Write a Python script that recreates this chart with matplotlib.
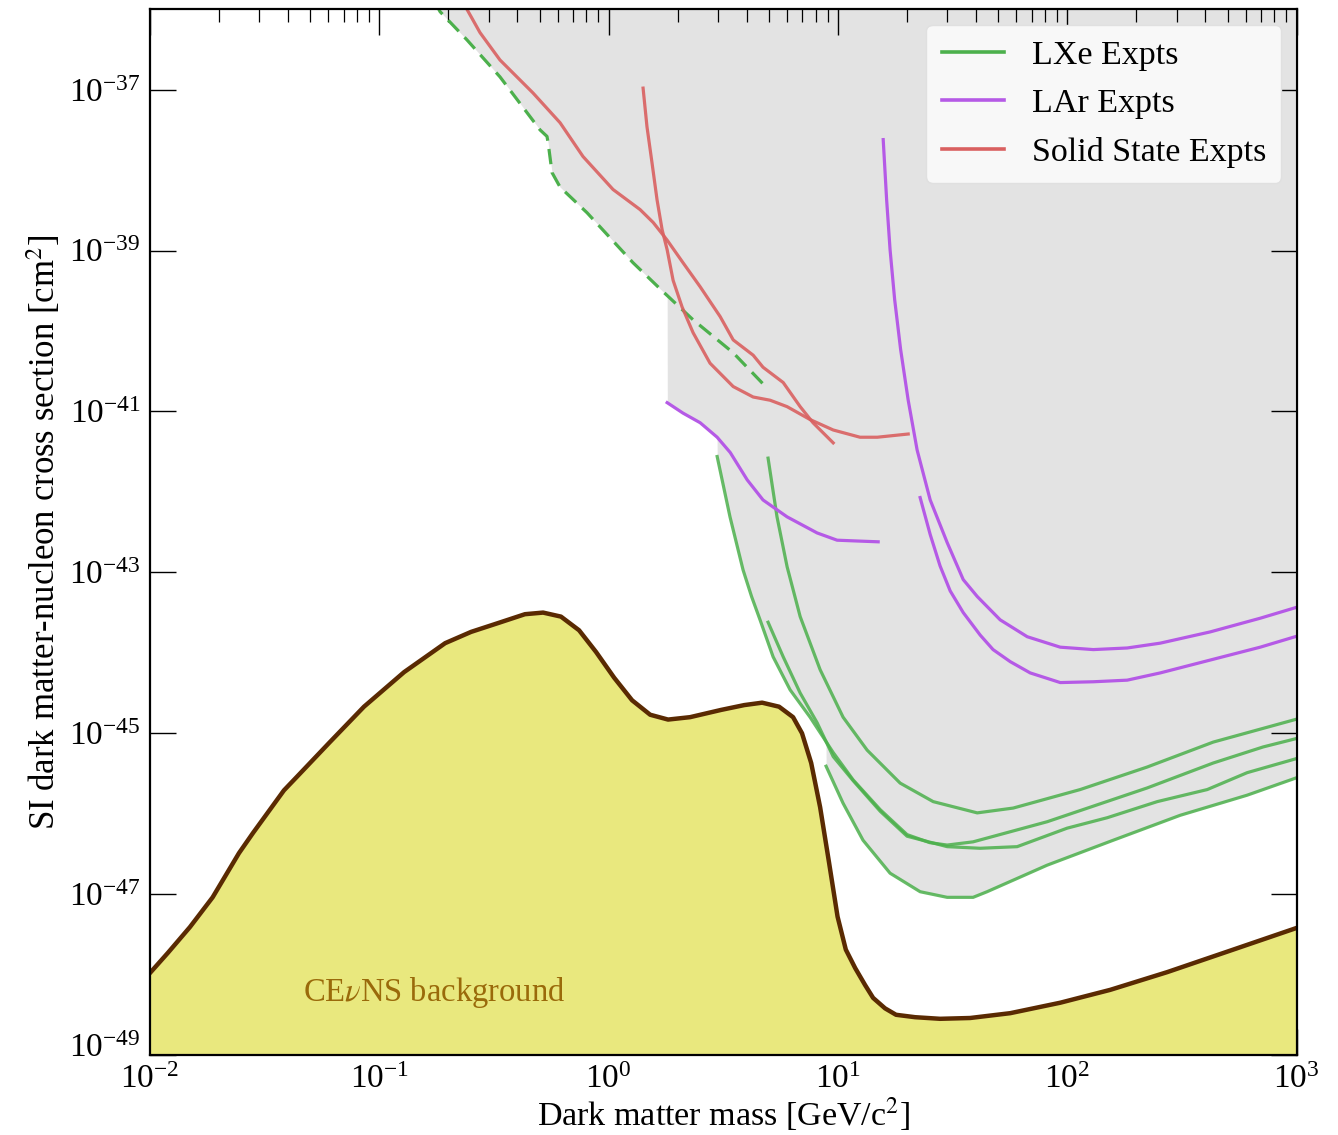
import numpy as np
import matplotlib
matplotlib.use("Agg")
import matplotlib.pyplot as plt
import matplotlib.transforms as mtransforms
from matplotlib.ticker import FixedLocator, NullLocator, LogLocator

plt.rcParams['font.family'] = ['Liberation Serif', 'DejaVu Serif']
plt.rcParams['mathtext.fontset'] = 'stix'

# all values are log10: mass in GeV/c^2, cross section in cm^2
cevns_logm = [-2.000, -1.922, -1.826, -1.727, -1.612, -1.551, -1.416, -1.359, -1.219, -1.067,
              -0.892, -0.713, -0.600, -0.482, -0.365, -0.286, -0.208, -0.129, -0.055, 0.024,
              0.102, 0.181, 0.259, 0.355, 0.490, 0.591, 0.669, 0.743, 0.804, 0.843,
              0.883, 0.922, 0.961, 0.998, 1.034, 1.075, 1.118, 1.153, 1.205, 1.253,
              1.336, 1.445, 1.576, 1.751, 1.969, 2.187, 2.435, 2.723, 3.000]
cevns_logs = [-47.98, -47.73, -47.41, -47.04, -46.49, -46.24, -45.71, -45.54, -45.12, -44.67,
              -44.24, -43.88, -43.74, -43.63, -43.52, -43.50, -43.55, -43.72, -43.99, -44.31,
              -44.59, -44.77, -44.83, -44.80, -44.71, -44.65, -44.62, -44.67, -44.80, -45.00,
              -45.37, -45.92, -46.61, -47.28, -47.69, -47.92, -48.13, -48.29, -48.42, -48.50,
              -48.53, -48.55, -48.54, -48.48, -48.35, -48.19, -47.97, -47.69, -47.42]

# LXe dashed
lxe_dash_logm = [-0.76, -0.735, -0.618, -0.474, -0.299, -0.269, -0.264, -0.247, -0.212,
                 -0.094, 0.106, 0.237, 0.368, 0.543, 0.691]
lxe_dash_logs = [-35.90, -36.03, -36.38, -36.84, -37.50, -37.58, -37.66, -38.03, -38.21,
                 -38.53, -39.15, -39.51, -39.86, -40.27, -40.71]

# LXe solid
lxe1_logm = [0.473, 0.529, 0.586, 0.623, 0.660, 0.717, 0.791, 0.878, 0.979, 1.066, 1.184, 1.301,
             1.400, 1.476, 1.589, 1.912, 2.348, 2.636, 2.854, 2.993]
lxe1_logs = [-41.56, -42.31, -42.97, -43.30, -43.59, -44.05, -44.46, -44.80, -45.24, -45.58,
             -45.95, -46.26, -46.36, -46.39, -46.35, -46.10, -45.68, -45.37, -45.17, -45.07]
lxe2_logm = [0.695, 0.734, 0.778, 0.835, 0.922, 1.022, 1.127, 1.271, 1.415, 1.607, 1.764,
             2.056, 2.348, 2.636, 2.993]
lxe2_logs = [-41.58, -42.31, -42.93, -43.55, -44.21, -44.80, -45.21, -45.62, -45.85, -45.99,
             -45.93, -45.70, -45.42, -45.11, -44.83]
lxe3_logm = [0.695, 0.761, 0.835, 0.909, 0.979, 1.066, 1.184, 1.301, 1.476, 1.620, 1.781,
             1.999, 2.174, 2.392, 2.610, 2.784, 2.993]
lxe3_logs = [-43.62, -44.05, -44.50, -44.87, -45.29, -45.59, -45.97, -46.28, -46.41, -46.43,
             -46.41, -46.18, -46.05, -45.85, -45.70, -45.49, -45.32]
lxe4_logm = [0.948, 1.022, 1.109, 1.227, 1.358, 1.476, 1.589, 1.650, 1.912, 2.200, 2.492,
             2.784, 2.993]
lxe4_logs = [-45.41, -45.87, -46.33, -46.74, -46.97, -47.04, -47.04, -46.97, -46.64, -46.33,
             -46.02, -45.77, -45.56]

# LAr
lar1_logm = [0.255, 0.324, 0.399, 0.473, 0.530, 0.604, 0.673, 0.778, 0.909, 0.996, 1.083, 1.175]
lar1_logs = [-40.89, -41.02, -41.14, -41.32, -41.51, -41.85, -42.10, -42.31, -42.51, -42.60,
             -42.61, -42.62]
lar2_logm = [1.197, 1.212, 1.227, 1.247, 1.273, 1.306, 1.345, 1.402, 1.476, 1.546, 1.607,
             1.707, 1.825, 1.969, 2.113, 2.261, 2.405, 2.623, 2.841, 2.993]
lar2_logs = [-37.62, -38.37, -38.99, -39.61, -40.23, -40.86, -41.48, -42.10, -42.63, -43.09,
             -43.30, -43.59, -43.80, -43.93, -43.96, -43.94, -43.88, -43.74, -43.57, -43.44]
lar3_logm = [1.358, 1.402, 1.445, 1.489, 1.546, 1.620, 1.676, 1.751, 1.838, 1.969, 2.113,
             2.261, 2.405, 2.623, 2.841, 2.993]
lar3_logs = [-42.07, -42.53, -42.92, -43.23, -43.50, -43.78, -43.96, -44.11, -44.25, -44.37,
             -44.36, -44.34, -44.25, -44.09, -43.93, -43.80]

# solid state
ss1_logm = [-0.63, -0.618, -0.561, -0.474, -0.330, -0.212, -0.112, 0.019, 0.137, 0.194, 0.255,
            0.324, 0.399, 0.486, 0.543, 0.630, 0.673, 0.761, 0.835, 0.891, 0.979]
ss1_logs = [-35.90, -36.00, -36.29, -36.63, -37.04, -37.41, -37.83, -38.24, -38.49, -38.65,
            -38.87, -39.15, -39.45, -39.82, -40.11, -40.30, -40.45, -40.64, -40.94, -41.14, -41.39]
ss2_logm = [0.150, 0.167, 0.189, 0.211, 0.233, 0.255, 0.281, 0.320, 0.368, 0.442, 0.543, 0.630,
            0.704, 0.778, 0.878, 0.979, 1.096, 1.171, 1.306]
ss2_logs = [-36.98, -37.46, -37.91, -38.37, -38.74, -38.99, -39.37, -39.70, -40.02, -40.40,
            -40.69, -40.82, -40.86, -40.94, -41.10, -41.23, -41.32, -41.32, -41.28]

green = '#4cb04c'
purple = '#b55ae6'
red = '#d96060'

fig = plt.figure(figsize=(13.38, 11.35), dpi=100)
ax = fig.add_axes([150/1338, 1-1055/1135, 1146.7/1338, 1045.7/1135])
ax.set_xscale('log')
ax.set_yscale('log')

# excluded region: above the lowest of all limit curves
limits = [(lxe_dash_logm, lxe_dash_logs), (lxe1_logm, lxe1_logs), (lxe2_logm, lxe2_logs),
          (lxe3_logm, lxe3_logs), (lxe4_logm, lxe4_logs), (lar1_logm, lar1_logs),
          (lar2_logm, lar2_logs), (lar3_logm, lar3_logs), (ss1_logm, ss1_logs), (ss2_logm, ss2_logs)]
grid = np.linspace(-2, 3, 8001)
stack = np.array([np.interp(grid, m, s, left=np.nan, right=np.nan) for m, s in limits])
env = np.nanmin(np.where(np.isnan(stack), np.inf, stack), axis=0)
ok = np.isfinite(env)
env[~ok] = -36
ax.fill_between(10**grid, 10**env, 1e-36, where=ok, color='#e3e3e3', lw=0, zorder=1)

# CEvNS floor
cx = 10**np.array(cevns_logm)
cy = 10**np.array(cevns_logs)
ax.fill_between(cx, cy, 1e-49, color='#e9e87e', lw=0, zorder=2)
ax.plot(cx, cy, color='#5a2a02', lw=3.2, zorder=3, solid_joinstyle='round')
ax.text(10**-0.761, 10**-48.22, r'CE$\nu$NS background', color='#9a6a0a', fontsize=23.5,
        ha='center', va='center', zorder=4)

lw = 2.3
ax.plot(10**np.array(lxe_dash_logm), 10**np.array(lxe_dash_logs), color=green, lw=lw,
        ls=(0, (4.8, 2.6)), zorder=5)
for m, s in [(lxe1_logm, lxe1_logs), (lxe2_logm, lxe2_logs), (lxe3_logm, lxe3_logs), (lxe4_logm, lxe4_logs)]:
    ax.plot(10**np.array(m), 10**np.array(s), color=green, lw=lw, alpha=0.85, zorder=5,
            solid_joinstyle='round')
for m, s in [(lar1_logm, lar1_logs), (lar2_logm, lar2_logs), (lar3_logm, lar3_logs)]:
    ax.plot(10**np.array(m), 10**np.array(s), color=purple, lw=lw, zorder=5, solid_joinstyle='round')
for m, s in [(ss1_logm, ss1_logs), (ss2_logm, ss2_logs)]:
    ax.plot(10**np.array(m), 10**np.array(s), color=red, lw=lw, alpha=0.9, zorder=5,
            solid_joinstyle='round')

ax.plot([], [], color=green, lw=2.6, label='LXe Expts')
ax.plot([], [], color=purple, lw=2.6, label='LAr Expts')
ax.plot([], [], color=red, lw=2.6, label='Solid State Expts')
leg = ax.legend(loc='upper right', fontsize=24.5, handlelength=1.85, handletextpad=0.8,
                borderaxespad=0.45, labelspacing=0.52, borderpad=0.45, fancybox=True,
                framealpha=1, facecolor='#f8f8f8', edgecolor='#e0e0e0')
leg.set_zorder(10)

ax.set_xlim(1e-2, 1e3)
ax.set_ylim(1e-49, 1e-36)
ax.yaxis.set_major_locator(FixedLocator(10.0**np.arange(-49, -36, 2)))
ax.yaxis.set_minor_locator(NullLocator())
ax.xaxis.set_major_locator(LogLocator(base=10, numticks=10))
ax.xaxis.set_minor_locator(LogLocator(base=10, subs=np.arange(2, 10), numticks=20))
ax.tick_params(which='both', direction='in', top=True, right=True, labelsize=24)
ax.tick_params(which='major', length=19, width=1.0, pad=7)
ax.tick_params(axis='x', which='major', pad=6.5)
ax.tick_params(which='minor', length=9, width=0.9)
for sp in ax.spines.values():
    sp.set_linewidth(1.6)
    sp.set_zorder(11)

ax.set_xlabel(r'Dark matter mass [GeV/c$^2$]', fontsize=24.5, labelpad=1)
ax.set_ylabel(r'SI dark matter-nucleon cross section [cm$^2$]', fontsize=25, labelpad=4)

# nudge the lowest y label up a little so it clears the first x label
lift = mtransforms.ScaledTranslation(0, 7/72, fig.dpi_scale_trans)
lab = ax.yaxis.get_major_ticks()[0].label1
lab.set_transform(lab.get_transform() + lift)

fig.savefig('out.png', dpi=100)
